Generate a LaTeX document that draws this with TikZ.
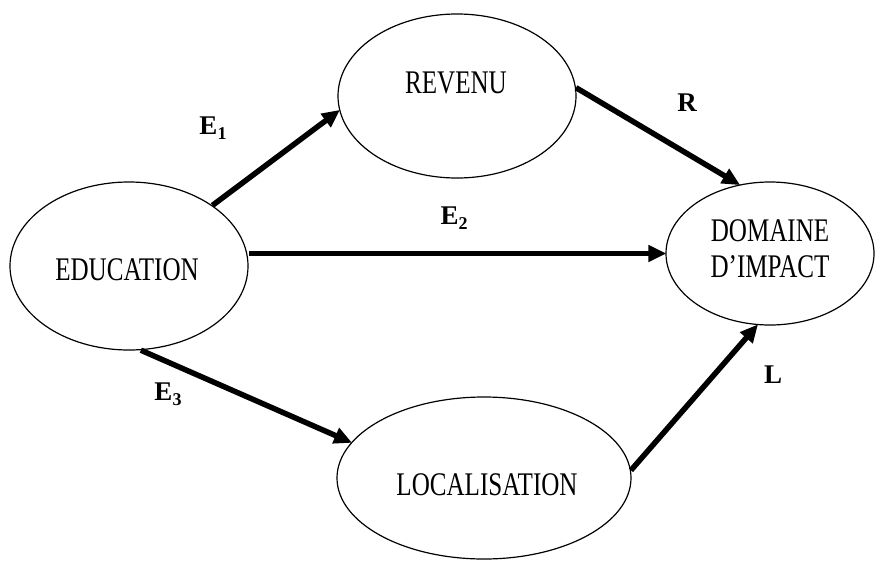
\documentclass[tikz,border=0pt]{standalone}
\usepackage{fontspec}
\setmainfont{Liberation Serif}
\newfontfamily\condfont[FakeStretch=0.76]{Liberation Serif}
\usetikzlibrary{arrows.meta,shapes.geometric}
\newcommand{\sublab}[2]{{\bfseries #1\raisebox{-5pt}{\fontsize{18}{18}\selectfont #2}}}
\tikzset{
  ell/.style={draw, ellipse, line width=1.2pt, inner sep=0pt},
  etext/.style={font=\condfont\fontsize{33}{36}\selectfont, align=center, inner sep=0pt},
  conn/.style={line width=5.5pt, -{Triangle[length=18pt,width=16pt]}, shorten >=-1pt},
  lab/.style={font=\bfseries\fontsize{27}{27}\selectfont, inner sep=0pt}
}
\begin{document}
\begin{tikzpicture}[x=1pt,y=-1pt]
\useasboundingbox (0,0) rectangle (875,560);
% ellipses
\node[ell, minimum width=238pt, minimum height=168pt] (edu) at (129,266) {};
\node[ell, minimum width=238pt, minimum height=164pt] (rev) at (457,96) {};
\node[ell, minimum width=208pt, minimum height=143pt] (dom) at (770,253.5) {};
\node[ell, minimum width=294pt, minimum height=162pt] (loc) at (484,478) {};
% texts
\node[etext] (tedu) at (127,270) {EDUCATION};
\node[etext] (trev) at (456,83) {REVENU};
\node[etext] (tdom) at (770,249) {DOMAINE\\D’IMPACT};
\node[etext] (tloc) at (487,485) {LOCALISATION};
% connectors
\draw[conn] (edu.36) -- (rev.187);
\draw[conn] (rev.4.8) -- (dom.114);
\draw[conn] (dom.west -| edu.east) -- (dom.west);
\draw[conn] (edu.-82.5) -- (loc.165.5);
\draw[conn] (loc.3.9) -- (dom.260);
% labels
\node[lab] (le1) at (213,128) {\sublab{E}{1}};
\node[lab] (lr) at (687,103) {R};
\node[lab] (le2) at (454,218) {\sublab{E}{2}};
\node[lab] (le3) at (168,394) {\sublab{E}{3}};
\node[lab] (ll) at (773,375) {L};
\end{tikzpicture}
\end{document}
